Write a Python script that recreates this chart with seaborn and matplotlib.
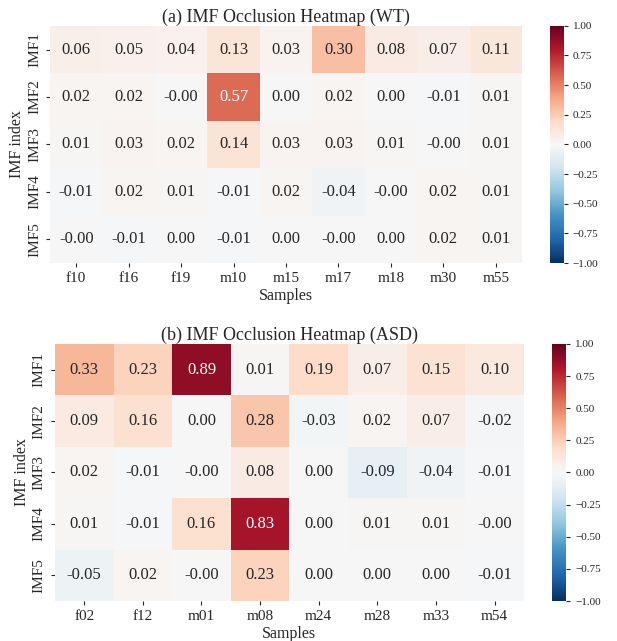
import matplotlib
matplotlib.use("Agg")
import matplotlib.pyplot as plt
import seaborn as sns
import pandas as pd

# IMF occlusion values
imf_labels = ["IMF1", "IMF2", "IMF3", "IMF4", "IMF5"]

wt_samples = ["f10", "f16", "f19", "m10", "m15", "m17", "m18", "m30", "m55"]
wt_values = [
    [0.06, 0.05, 0.04, 0.13, 0.03, 0.30, 0.08, 0.07, 0.11],
    [0.02, 0.02, -0.00, 0.57, 0.00, 0.02, 0.00, -0.01, 0.01],
    [0.01, 0.03, 0.02, 0.14, 0.03, 0.03, 0.01, -0.00, 0.01],
    [-0.01, 0.02, 0.01, -0.01, 0.02, -0.04, -0.00, 0.02, 0.01],
    [-0.00, -0.01, 0.00, -0.01, 0.00, -0.00, 0.00, 0.02, 0.01],
]

asd_samples = ["f02", "f12", "m01", "m08", "m24", "m28", "m33", "m54"]
asd_values = [
    [0.33, 0.23, 0.89, 0.01, 0.19, 0.07, 0.15, 0.10],
    [0.09, 0.16, 0.00, 0.28, -0.03, 0.02, 0.07, -0.02],
    [0.02, -0.01, -0.00, 0.08, 0.00, -0.09, -0.04, -0.01],
    [0.01, -0.01, 0.16, 0.83, 0.00, 0.01, 0.01, -0.00],
    [-0.05, 0.02, -0.00, 0.23, 0.00, 0.00, 0.00, -0.01],
]

sns.set_theme(style="white")
plt.rcParams['font.family'] = ['Liberation Serif', 'DejaVu Serif']

fig = plt.figure(figsize=(6.17, 6.41), dpi=100)

panels = [
    ("(a) IMF Occlusion Heatmap (WT)", wt_samples, wt_values,
     [0.081, 0.5897, 0.765, 0.370], [0.891, 0.5897, 0.0227, 0.370]),
    ("(b) IMF Occlusion Heatmap (ASD)", asd_samples, asd_values,
     [0.089, 0.0624, 0.760, 0.401], [0.895, 0.0624, 0.0227, 0.401]),
]

for title, samples, values, ax_pos, cb_pos in panels:
    df = pd.DataFrame(values, index=imf_labels, columns=samples)
    ax = fig.add_axes(ax_pos)
    cax = fig.add_axes(cb_pos)
    sns.heatmap(df, ax=ax, cbar_ax=cax, cmap="RdBu_r", vmin=-1, vmax=1,
                center=0, annot=True, fmt=".2f", annot_kws={"size": 12})
    ax.set_title(title, fontsize=13, pad=3)
    ax.set_xlabel("Samples", fontsize=11.5, labelpad=2)
    ax.set_ylabel("IMF index", fontsize=11.5, labelpad=2)
    ax.tick_params(axis="both", labelsize=11, length=3, width=0.8, bottom=True, left=True)
    ax.set_yticklabels(imf_labels, rotation=90, va="center")
    ax.set_xticklabels(samples, rotation=0)
    cax.tick_params(labelsize=8, length=3, width=0.8, right=True)
    cax.set_yticks([-1.0, -0.75, -0.5, -0.25, 0.0, 0.25, 0.5, 0.75, 1.0])
    cax.set_yticklabels(["\u22121.00", "\u22120.75", "\u22120.50", "\u22120.25", "0.00",
                         "0.25", "0.50", "0.75", "1.00"])

fig.savefig("out.png", dpi=100)
